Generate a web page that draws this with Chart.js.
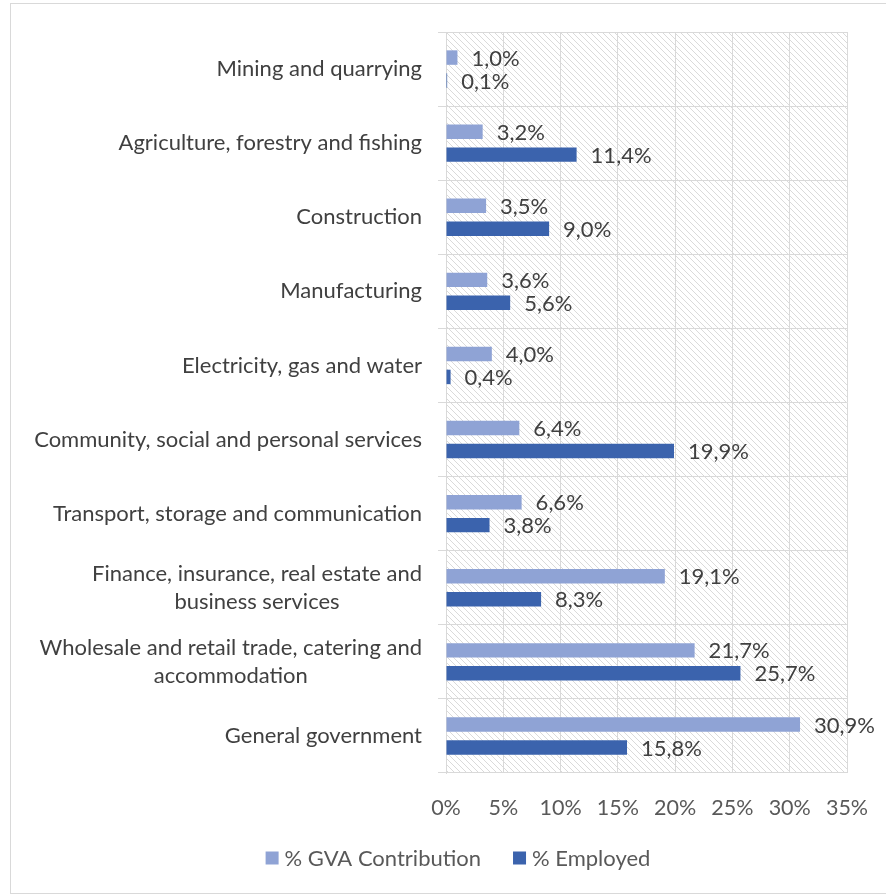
<!DOCTYPE html>
<html>
<head>
<meta charset="utf-8">
<script src="https://cdn.jsdelivr.net/npm/chart.js@4"></script>
<style>
  body { margin: 0; background: #fff; overflow: hidden; }
  #frame { position: absolute; left: 10px; top: 3px; width: 900px; height: 889px; border: 1px solid #d9d9d9; }
  #sectorChart { position: absolute; left: 0; top: 0; }
</style>
</head>
<body>
<div id="frame"></div>
<canvas id="sectorChart" width="886" height="894"></canvas>
<script>
// Sectors, top to bottom
const sectors = [
    ['Mining and quarrying'],
    ['Agriculture, forestry and fishing'],
    ['Construction'],
    ['Manufacturing'],
    ['Electricity, gas and water'],
    ['Community, social and personal services'],
    ['Transport, storage and communication'],
    ['Finance, insurance, real estate and', 'business services'],
    ['Wholesale and retail trade, catering and', 'accommodation'],
    ['General government']
];
const gvaShare = [1.0, 3.2, 3.5, 3.6, 4.0, 6.4, 6.6, 19.1, 21.7, 30.9];
const employedShare = [0.1, 11.4, 9.0, 5.6, 0.4, 19.9, 3.8, 8.3, 25.7, 15.8];
const xTicks = [0, 5, 10, 15, 20, 25, 30, 35];

const FONT = 'Lato, "Open Sans", sans-serif';

// diagonal hatch for the plot background
function hatchPattern(ctx) {
    const tile = document.createElement('canvas');
    tile.width = 6;
    tile.height = 6;
    const t = tile.getContext('2d');
    t.strokeStyle = '#dadada';
    t.lineWidth = 1;
    t.beginPath();
    t.moveTo(-1, -1); t.lineTo(7, 7);
    t.moveTo(-1, 5); t.lineTo(1, 7);
    t.moveTo(5, -1); t.lineTo(7, 1);
    t.stroke();
    return ctx.createPattern(tile, 'repeat');
}

const hatchBackground = {
    id: 'hatchBackground',
    beforeDraw(chart) {
        const { ctx, chartArea: a } = chart;
        ctx.save();
        ctx.fillStyle = hatchPattern(ctx);
        ctx.fillRect(a.left, a.top, a.right - a.left, a.bottom - a.top);
        ctx.restore();
    }
};

// category names, right aligned as a block, lines centred inside it
const sectorLabels = {
    id: 'sectorLabels',
    afterDraw(chart) {
        const { ctx } = chart;
        const y = chart.scales.y;
        const right = chart.chartArea.left - 24;
        ctx.save();
        ctx.font = '22px ' + FONT;
        ctx.fillStyle = '#404040';
        ctx.textAlign = 'center';
        ctx.textBaseline = 'middle';
        const lineH = 28;
        sectors.forEach((lines, i) => {
            const cy = y.getPixelForValue(i);
            const w = Math.max(...lines.map(l => ctx.measureText(l).width));
            const cx = right - w / 2;
            const top = cy - (lines.length - 1) * lineH / 2;
            lines.forEach((l, k) => ctx.fillText(l, cx, top + k * lineH));
        });
        ctx.restore();
    }
};

// value labels just past each bar end
const valueLabels = {
    id: 'valueLabels',
    afterDatasetsDraw(chart) {
        const { ctx } = chart;
        ctx.save();
        ctx.font = '22px ' + FONT;
        ctx.fillStyle = '#404040';
        ctx.textAlign = 'left';
        ctx.textBaseline = 'middle';
        chart.data.datasets.forEach((ds, di) => {
            chart.getDatasetMeta(di).data.forEach((bar, i) => {
                const txt = ds.data[i].toFixed(1).replace('.', ',') + '%';
                ctx.fillText(txt, bar.x + 14, bar.y + 1);
            });
        });
        ctx.restore();
    }
};

// legend row under the axis: small square, tight gap, then the name
const bottomLegend = {
    id: 'bottomLegend',
    afterDraw(chart) {
        const { ctx } = chart;
        const box = 13, gap = 6, between = 32, y = 858;
        ctx.save();
        ctx.font = '22px ' + FONT;
        ctx.textBaseline = 'middle';
        ctx.textAlign = 'left';
        const items = chart.data.datasets.map(ds => ({
            text: ds.label, color: ds.backgroundColor, w: ctx.measureText(ds.label).width
        }));
        const total = items.reduce((s, it) => s + box + gap + it.w, 0) + between * (items.length - 1);
        let x = 458 - total / 2;
        items.forEach(it => {
            ctx.fillStyle = it.color;
            ctx.fillRect(x, y - box / 2, box, box);
            ctx.fillStyle = '#595959';
            ctx.fillText(it.text, x + box + gap, y + 1);
            x += box + gap + it.w + between;
        });
        ctx.restore();
    }
};

new Chart(document.getElementById('sectorChart'), {
    type: 'bar',
    data: {
        labels: sectors,
        datasets: [
            {
                label: '% GVA Contribution',
                data: gvaShare,
                backgroundColor: '#8fa3d5',
                borderWidth: 0,
                barPercentage: 0.63,
                categoryPercentage: 0.62
            },
            {
                label: '% Employed',
                data: employedShare,
                backgroundColor: '#3b63ad',
                borderWidth: 0,
                barPercentage: 0.63,
                categoryPercentage: 0.62
            }
        ]
    },
    options: {
        indexAxis: 'y',
        responsive: false,
        animation: false,
        layout: { padding: { top: 32, right: 39, bottom: 71, left: 0 } },
        scales: {
            x: {
                min: 0,
                max: 35,
                afterBuildTicks(scale) {
                    scale.ticks = xTicks.map(v => ({ value: v }));
                },
                afterFit(scale) {
                    scale.height = 50;
                    scale.paddingLeft = 0;
                    scale.paddingRight = 0;
                },
                grid: { color: '#d9d9d9', drawTicks: false },
                border: { display: false },
                ticks: {
                    padding: 22,
                    color: '#595959',
                    font: { family: FONT, size: 21.5 },
                    callback: v => v + '%'
                }
            },
            y: {
                afterFit(scale) { scale.width = 446; },
                grid: { color: '#d9d9d9', tickLength: 8, offset: true },
                border: { color: '#d9d9d9' },
                ticks: { display: false }
            }
        },
        plugins: {
            legend: { display: false },
            tooltip: { enabled: false }
        }
    },
    plugins: [hatchBackground, sectorLabels, valueLabels, bottomLegend]
});
</script>
</body>
</html>
